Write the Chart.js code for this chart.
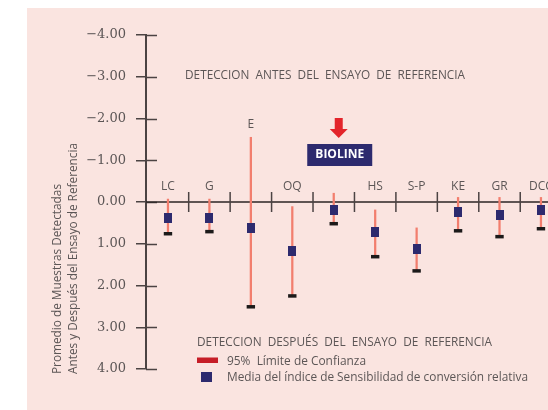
<!DOCTYPE html>
<html lang="es">
<head>
<meta charset="utf-8">
<title>Promedio de Muestras Detectadas</title>
<script src="https://cdn.jsdelivr.net/npm/chart.js@4.4.1/dist/chart.umd.min.js"></script>
<style>
    html, body { margin: 0; padding: 0; background: #ffffff; }
    #wrap { width: 548px; height: 410px; }
</style>
</head>
<body>
<div id="wrap"><canvas id="chart" width="548" height="410"></canvas></div>
<script>
// categories along the zero line (BIOLINE gets its own box instead of a label)
const categories = ['LC', 'G', 'E', 'OQ', 'BIOLINE', 'HS', 'S-P', 'KE', 'GR', 'DCC'];
const highlighted = 'BIOLINE';

// mean relative sensitivity index (positive = after the reference assay)
const meanIndex = [0.38, 0.38, 0.62, 1.17, 0.18, 0.71, 1.12, 0.23, 0.30, 0.18];
// 95% confidence limits
const ciUpper = [-0.07, -0.07, -1.55, 0.11, -0.21, 0.19, 0.62, -0.11, -0.11, -0.11];
const ciLower = [0.76, 0.71, 2.51, 2.25, 0.52, 1.31, 1.65, 0.69, 0.83, 0.64];

const yTickValues = [-4, -3, -2, -1, 0, 1, 2, 3, 4];

const axisTitle = ['Promedio de Muestras Detectadas', 'Antes y Después del Ensayo de Referencia'];
const textBefore = 'DETECCION  ANTES  DEL  ENSAYO  DE  REFERENCIA';
const textAfter = 'DETECCION  DESPUÉS  DEL  ENSAYO  DE  REFERENCIA';
const legendLabels = ['95%  Límite de Confianza', 'Media del índice de Sensibilidad de conversión relativa'];

const COLORS = {
    panel: '#fae4e0',
    axis: '#4b4343',
    text: '#5c5656',
    ci: '#f27e6e',
    ciLegend: '#c61d27',
    cap: '#1c1a1a',
    mean: '#2d2a6e',
    arrow: '#e3242b'
};

const SANS = '"Open Sans", "Noto Sans", sans-serif';

function makeMeanMarker() {
    const marker = document.createElement('canvas');
    marker.width = 8;
    marker.height = 10;
    const mctx = marker.getContext('2d');
    mctx.fillStyle = COLORS.mean;
    mctx.fillRect(0, 0, 8, 10);
    return marker;
}

function formatTick(value) {
    const sign = value < 0 ? '\u2212' : '';
    return sign + Math.abs(value).toFixed(2);
}

const decorations = {
    id: 'decorations',
    beforeDraw(chart) {
        const ctx = chart.ctx;
        ctx.save();
        ctx.fillStyle = COLORS.panel;
        ctx.fillRect(27, 8, chart.width - 27, chart.height - 8);
        ctx.restore();
    },
    beforeDatasetsDraw(chart) {
        const { ctx, chartArea, scales } = chart;
        const x = scales.x;
        const y = scales.y;
        const zeroY = y.getPixelForValue(0);

        ctx.save();
        ctx.strokeStyle = COLORS.axis;

        // inner half of the y ticks
        ctx.lineWidth = 1.5;
        yTickValues.forEach(v => {
            const py = Math.round(y.getPixelForValue(v)) + 0.5;
            ctx.beginPath();
            ctx.moveTo(chartArea.left, py);
            ctx.lineTo(chartArea.left + 11, py);
            ctx.stroke();
        });

        // zero line
        ctx.strokeStyle = '#2b2525';
        ctx.lineWidth = 1.6;
        ctx.beginPath();
        ctx.moveTo(chartArea.left, zeroY);
        ctx.lineTo(chartArea.right, zeroY);
        ctx.stroke();

        // separators between categories
        ctx.strokeStyle = COLORS.axis;
        ctx.lineWidth = 1.5;
        for (let i = 0; i < categories.length - 1; i++) {
            const px = x.getPixelForValue(i + 0.5);
            ctx.beginPath();
            ctx.moveTo(px, zeroY - 10);
            ctx.lineTo(px, zeroY + 10);
            ctx.stroke();
        }
        ctx.restore();
    },
    afterDraw(chart) {
        const { ctx, scales } = chart;
        const x = scales.x;
        const y = scales.y;
        const zeroY = y.getPixelForValue(0);

        ctx.save();
        ctx.fillStyle = COLORS.text;
        ctx.textBaseline = 'middle';

        // category labels above the zero line
        ctx.font = '12px ' + SANS;
        ctx.textAlign = 'center';
        categories.forEach((name, i) => {
            if (name === highlighted) {
                return;
            }
            const px = x.getPixelForValue(i);
            const topY = y.getPixelForValue(ciUpper[i]);
            const labelY = topY < zeroY - 9 ? topY - 13 : zeroY - 15;
            ctx.fillText(name, px, labelY);
        });

        // BIOLINE box and arrow
        const hx = x.getPixelForValue(categories.indexOf(highlighted)) + 6;
        ctx.fillStyle = COLORS.mean;
        ctx.fillRect(hx - 32.5, 144, 65, 22);
        ctx.fillStyle = '#ffffff';
        ctx.font = 'bold 12px ' + SANS;
        ctx.fillText(highlighted, hx, 155, 51);

        ctx.fillStyle = COLORS.arrow;
        ctx.beginPath();
        ctx.moveTo(hx - 5, 118);
        ctx.lineTo(hx + 3, 118);
        ctx.lineTo(hx + 3, 129);
        ctx.lineTo(hx + 8, 129);
        ctx.lineTo(hx - 1, 138);
        ctx.lineTo(hx - 10, 129);
        ctx.lineTo(hx - 5, 129);
        ctx.closePath();
        ctx.fill();

        // region captions
        ctx.fillStyle = COLORS.text;
        ctx.textAlign = 'left';
        ctx.font = '12px ' + SANS;
        ctx.fillText(textBefore, 185, 76, 280);
        ctx.fillText(textAfter, 197, 343, 295);

        // legend
        ctx.fillStyle = COLORS.ciLegend;
        ctx.fillRect(197, 357.5, 21, 5.5);
        ctx.fillStyle = COLORS.mean;
        ctx.fillRect(201, 372, 11, 10);
        ctx.fillStyle = COLORS.text;
        ctx.fillText(legendLabels[0], 227, 361.5, 139);
        ctx.fillText(legendLabels[1], 227, 377.5, 301);

        // rotated axis title
        const titleX = [58, 74];
        const titleW = [190, 231];
        axisTitle.forEach((line, i) => {
            ctx.save();
            ctx.translate(titleX[i], 374);
            ctx.rotate(-Math.PI / 2);
            ctx.fillText(line, 0, 0, titleW[i]);
            ctx.restore();
        });

        ctx.restore();
    }
};

function buildChart() {
    const canvas = document.getElementById('chart');
    const meanMarker = makeMeanMarker();

    const config = {
        data: {
            datasets: [
                {
                    type: 'bar',
                    label: legendLabels[0],
                    data: categories.map((c, i) => ({ x: i, y: [ciUpper[i], ciLower[i]] })),
                    backgroundColor: COLORS.ci,
                    borderWidth: 0,
                    barThickness: 1.6,
                    grouped: false,
                    order: 3
                },
                {
                    type: 'scatter',
                    label: 'cap',
                    data: categories.map((c, i) => ({ x: i, y: ciLower[i] })),
                    pointStyle: 'line',
                    pointRadius: 4.2,
                    borderColor: COLORS.cap,
                    borderWidth: 3.5,
                    order: 2
                },
                {
                    type: 'scatter',
                    label: legendLabels[1],
                    data: categories.map((c, i) => ({ x: i, y: meanIndex[i] })),
                    pointStyle: meanMarker,
                    pointRadius: 5,
                    order: 1
                }
            ]
        },
        options: {
            responsive: false,
            animation: false,
            events: [],
            layout: {
                autoPadding: false,
                padding: { top: 35, bottom: 41, left: 0, right: 0 }
            },
            plugins: {
                legend: { display: false },
                tooltip: { enabled: false }
            },
            scales: {
                x: {
                    type: 'linear',
                    display: false,
                    offset: false,
                    min: -0.53,
                    max: 9.17
                },
                y: {
                    type: 'linear',
                    reverse: true,
                    min: -4,
                    max: 4,
                    afterFit: scale => {
                        scale.width = 146;
                    },
                    afterBuildTicks: scale => {
                        scale.ticks = yTickValues.map(v => ({ value: v }));
                    },
                    border: {
                        display: true,
                        color: COLORS.axis,
                        width: 2
                    },
                    grid: {
                        drawOnChartArea: false,
                        drawTicks: true,
                        tickLength: 10,
                        color: COLORS.axis,
                        lineWidth: 1.5
                    },
                    ticks: {
                        padding: 10,
                        color: COLORS.text,
                        font: { family: '"DejaVu Serif", serif', size: 13 },
                        callback: value => formatTick(value)
                    }
                }
            }
        },
        plugins: [decorations]
    };

    return new Chart(canvas, config);
}

buildChart();
</script>
</body>
</html>
